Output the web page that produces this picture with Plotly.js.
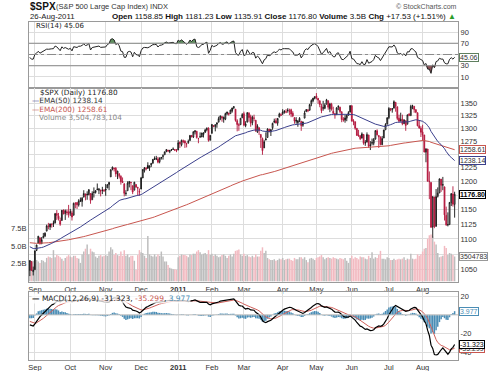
<!DOCTYPE html>
<html><head><meta charset="utf-8">
<script src="https://cdn.plot.ly/plotly-3.0.1.min.js"></script>
<style>html,body{margin:0;padding:0;background:#fff;}#chart{width:489px;height:371px;}</style>
</head><body><div id="chart"></div>
<script>
// ---------- DATA ----------
const dates = [
'2010-08-27','2010-08-30','2010-08-31',
'2010-09-01','2010-09-02','2010-09-03','2010-09-07','2010-09-08','2010-09-09','2010-09-10','2010-09-13','2010-09-14','2010-09-15','2010-09-16','2010-09-17','2010-09-20','2010-09-21','2010-09-22','2010-09-23','2010-09-24','2010-09-27','2010-09-28','2010-09-29','2010-09-30',
'2010-10-01','2010-10-04','2010-10-05','2010-10-06','2010-10-07','2010-10-08','2010-10-11','2010-10-12','2010-10-13','2010-10-14','2010-10-15','2010-10-18','2010-10-19','2010-10-20','2010-10-21','2010-10-22','2010-10-25','2010-10-26','2010-10-27','2010-10-28','2010-10-29',
'2010-11-01','2010-11-02','2010-11-03','2010-11-04','2010-11-05','2010-11-08','2010-11-09','2010-11-10','2010-11-11','2010-11-12','2010-11-15','2010-11-16','2010-11-17','2010-11-18','2010-11-19','2010-11-22','2010-11-23','2010-11-24','2010-11-26','2010-11-29','2010-11-30',
'2010-12-01','2010-12-02','2010-12-03','2010-12-06','2010-12-07','2010-12-08','2010-12-09','2010-12-10','2010-12-13','2010-12-14','2010-12-15','2010-12-16','2010-12-17','2010-12-20','2010-12-21','2010-12-22','2010-12-23','2010-12-27','2010-12-28','2010-12-29','2010-12-30','2010-12-31',
'2011-01-03','2011-01-04','2011-01-05','2011-01-06','2011-01-07','2011-01-10','2011-01-11','2011-01-12','2011-01-13','2011-01-14','2011-01-18','2011-01-19','2011-01-20','2011-01-21','2011-01-24','2011-01-25','2011-01-26','2011-01-27','2011-01-28','2011-01-31',
'2011-02-01','2011-02-02','2011-02-03','2011-02-04','2011-02-07','2011-02-08','2011-02-09','2011-02-10','2011-02-11','2011-02-14','2011-02-15','2011-02-16','2011-02-17','2011-02-18','2011-02-22','2011-02-23','2011-02-24','2011-02-25','2011-02-28',
'2011-03-01','2011-03-02','2011-03-03','2011-03-04','2011-03-07','2011-03-08','2011-03-09','2011-03-10','2011-03-11','2011-03-14','2011-03-15','2011-03-16','2011-03-17','2011-03-18','2011-03-21','2011-03-22','2011-03-23','2011-03-24','2011-03-25','2011-03-28','2011-03-29','2011-03-30','2011-03-31',
'2011-04-01','2011-04-04','2011-04-05','2011-04-06','2011-04-07','2011-04-08','2011-04-11','2011-04-12','2011-04-13','2011-04-14','2011-04-15','2011-04-18','2011-04-19','2011-04-20','2011-04-21','2011-04-25','2011-04-26','2011-04-27','2011-04-28','2011-04-29',
'2011-05-02','2011-05-03','2011-05-04','2011-05-05','2011-05-06','2011-05-09','2011-05-10','2011-05-11','2011-05-12','2011-05-13','2011-05-16','2011-05-17','2011-05-18','2011-05-19','2011-05-20','2011-05-23','2011-05-24','2011-05-25','2011-05-26','2011-05-27','2011-05-31',
'2011-06-01','2011-06-02','2011-06-03','2011-06-06','2011-06-07','2011-06-08','2011-06-09','2011-06-10','2011-06-13','2011-06-14','2011-06-15','2011-06-16','2011-06-17','2011-06-20','2011-06-21','2011-06-22','2011-06-23','2011-06-24','2011-06-27','2011-06-28','2011-06-29','2011-06-30',
'2011-07-01','2011-07-05','2011-07-06','2011-07-07','2011-07-08','2011-07-11','2011-07-12','2011-07-13','2011-07-14','2011-07-15','2011-07-18','2011-07-19','2011-07-20','2011-07-21','2011-07-22','2011-07-25','2011-07-26','2011-07-27','2011-07-28','2011-07-29',
'2011-08-01','2011-08-02','2011-08-03','2011-08-04','2011-08-05','2011-08-08','2011-08-09','2011-08-10','2011-08-11','2011-08-12','2011-08-15','2011-08-16','2011-08-17','2011-08-18','2011-08-19','2011-08-22','2011-08-23','2011-08-24','2011-08-25','2011-08-26'
];
const opens = [
1049,1063,1047,
1050,1081,1093,1102,1092,1102,1105,1113,1121,1120,1124,1127,1127,1143,1139,1131,1131,1149,1143,1146,1146,
1144,1144,1140,1160,1162,1158,1166,1164,1172,1177,1177,1176,1178,1167,1180,1180,1185,1184,1184,1184,1183,
1186,1188,1194,1208,1222,1224,1224,1214,1209,1209,1200,1195,1178,1183,1196,1198,1192,1184,1194,1189,1182,
1186,1206,1220,1224,1229,1225,1230,1233,1242,1241,1241,1236,1243,1246,1249,1255,1258,1255,1259,1259,1259,1257,
1258,1273,1268,1276,1275,1270,1272,1276,1286,1283,1293,1294,1280,1283,1283,1288,1292,1297,1300,1277,
1290,1305,1303,1308,1312,1319,1323,1318,1318,1329,1330,1329,1334,1341,1338,1315,1307,1307,1321,
1329,1305,1312,1330,1323,1311,1320,1316,1293,1301,1288,1280,1262,1277,1282,1298,1293,1301,1312,1315,1310,1322,1327,
1329,1334,1332,1336,1335,1337,1330,1321,1316,1311,1315,1314,1306,1320,1333,1337,1336,1349,1355,1360,
1365,1360,1355,1344,1341,1340,1348,1355,1339,1348,1334,1326,1328,1342,1342,1333,1318,1316,1320,1326,1332,
1345,1315,1313,1300,1287,1285,1281,1288,1272,1273,1287,1266,1272,1271,1279,1295,1286,1283,1268,1281,1297,1308,
1321,1339,1337,1340,1352,1343,1320,1314,1318,1309,1315,1308,1328,1325,1344,1344,1337,1331,1305,1300,
1293,1287,1254,1260,1200,1198,1120,1172,1121,1173,1179,1204,1193,1190,1140,1124,1124,1162,1177,1158.85
];
const highs = [
1065,1064,1055,
1081,1090,1105,1102,1103,1110,1111,1124,1127,1126,1126,1131,1144,1149,1144,1136,1149,1150,1150,1150,1158,
1151,1148,1162,1163,1163,1168,1171,1172,1184,1178,1182,1186,1178,1182,1189,1184,1196,1188,1185,1190,1186,
1195,1195,1199,1222,1227,1225,1226,1219,1215,1211,1207,1197,1184,1200,1200,1199,1192,1199,1195,1190,1187,
1208,1222,1226,1226,1235,1229,1233,1241,1246,1247,1245,1244,1245,1250,1255,1260,1258,1258,1260,1263,1260,1260,
1277,1274,1278,1278,1277,1272,1278,1287,1287,1294,1296,1295,1281,1292,1291,1292,1299,1302,1302,1287,
1308,1306,1308,1311,1323,1325,1324,1323,1331,1333,1331,1337,1341,1344,1338,1318,1310,1320,1330,
1333,1314,1332,1332,1327,1325,1327,1316,1308,1302,1288,1282,1277,1292,1300,1299,1298,1311,1319,1320,1320,1331,1330,
1338,1336,1338,1340,1339,1339,1334,1322,1322,1316,1322,1314,1313,1335,1338,1337,1349,1358,1361,1364,
1371,1361,1356,1349,1355,1350,1359,1356,1351,1351,1343,1330,1342,1346,1343,1333,1322,1326,1328,1334,1346,
1346,1318,1313,1300,1297,1287,1292,1288,1277,1292,1287,1275,1280,1281,1296,1298,1286,1284,1285,1297,1310,1322,
1342,1340,1340,1356,1352,1343,1327,1331,1327,1318,1315,1327,1330,1347,1347,1344,1338,1331,1316,1304,
1307,1287,1261,1260,1218,1198,1173,1172,1186,1189,1205,1204,1208,1190,1155,1145,1163,1179,1191,1181.23
];
const lows = [
1040,1049,1041,
1050,1080,1093,1091,1092,1101,1103,1113,1116,1115,1119,1120,1126,1132,1131,1122,1131,1142,1132,1140,1136,
1139,1131,1140,1152,1151,1155,1163,1155,1171,1166,1167,1175,1160,1167,1171,1178,1184,1177,1173,1177,1181,
1174,1188,1184,1208,1220,1218,1208,1204,1205,1194,1197,1173,1174,1183,1189,1184,1177,1184,1189,1174,1174,
1186,1206,1216,1220,1223,1219,1226,1233,1240,1239,1233,1233,1240,1240,1249,1254,1254,1252,1256,1259,1256,1254,
1258,1262,1265,1271,1262,1263,1270,1276,1282,1281,1288,1280,1271,1282,1283,1282,1291,1294,1274,1276,
1290,1302,1294,1301,1312,1316,1313,1311,1316,1326,1325,1329,1331,1338,1313,1294,1295,1307,1320,
1304,1302,1312,1313,1303,1306,1314,1293,1291,1287,1262,1249,1262,1277,1282,1292,1285,1297,1310,1310,1305,1322,1325,
1326,1329,1330,1331,1326,1322,1322,1309,1309,1303,1312,1295,1303,1320,1333,1332,1335,1344,1352,1358,
1358,1349,1342,1330,1335,1338,1348,1337,1332,1335,1329,1319,1326,1336,1330,1312,1313,1311,1314,1325,1332,
1313,1306,1297,1285,1284,1277,1280,1268,1266,1273,1262,1258,1267,1267,1278,1286,1262,1267,1268,1281,1297,1308,
1318,1334,1331,1340,1333,1316,1313,1314,1306,1309,1295,1308,1324,1325,1338,1331,1330,1304,1299,1283,
1275,1254,1235,1200,1168,1119,1102,1118,1121,1171,1179,1181,1184,1131,1122,1121,1124,1156,1155,1135.91
];
const closes = [
1064.59,1048.92,1049.33,
1080.29,1090.10,1104.51,1091.84,1098.87,1104.18,1109.55,1121.90,1121.10,1125.07,1124.66,1125.59,1142.71,1139.78,1134.28,1124.83,1148.67,1142.16,1147.70,1144.73,1141.20,
1146.24,1137.03,1160.75,1159.97,1158.06,1165.15,1165.32,1169.77,1178.10,1173.81,1176.19,1184.71,1165.90,1178.17,1180.26,1183.08,1185.62,1185.64,1182.45,1183.78,1183.26,
1184.38,1193.57,1197.96,1221.06,1225.85,1223.25,1213.40,1218.71,1213.54,1199.21,1197.75,1178.34,1178.59,1196.69,1199.73,1197.84,1180.73,1198.35,1189.40,1187.76,1180.55,
1206.07,1221.53,1224.71,1223.12,1223.75,1228.28,1233.00,1240.40,1240.46,1241.59,1235.23,1242.87,1243.91,1247.08,1254.60,1258.84,1256.77,1257.54,1258.51,1259.78,1257.88,1257.64,
1271.87,1270.20,1276.56,1273.85,1271.50,1269.75,1274.48,1285.96,1283.76,1293.24,1295.02,1281.92,1280.26,1283.35,1290.84,1291.18,1296.63,1299.54,1276.34,1286.12,
1307.59,1304.03,1307.10,1310.87,1319.05,1324.57,1320.88,1321.87,1329.15,1332.32,1328.01,1336.32,1340.43,1343.01,1315.44,1307.40,1306.10,1319.88,1327.22,
1306.33,1308.44,1330.97,1321.15,1310.13,1321.82,1320.02,1295.11,1304.28,1296.39,1281.87,1256.88,1273.72,1279.21,1298.38,1293.77,1297.54,1309.66,1313.80,1310.19,1319.44,1328.26,1325.83,
1332.41,1332.87,1332.63,1335.54,1333.51,1328.17,1324.46,1314.16,1314.41,1314.52,1319.68,1305.14,1312.62,1330.36,1337.38,1335.25,1347.24,1355.66,1360.48,1363.61,
1361.22,1356.62,1347.32,1335.10,1340.20,1346.29,1357.16,1342.08,1348.65,1337.77,1329.47,1328.98,1340.68,1343.60,1333.27,1317.37,1316.28,1320.47,1325.69,1331.10,1345.20,
1314.55,1312.94,1300.16,1286.17,1284.94,1279.56,1289.00,1270.98,1271.83,1287.87,1265.42,1267.64,1271.50,1278.36,1295.52,1287.14,1283.50,1268.45,1280.10,1296.67,1307.41,1320.64,
1339.67,1337.88,1339.22,1353.22,1343.80,1319.49,1313.64,1317.72,1308.87,1316.14,1305.44,1326.73,1325.84,1343.80,1345.02,1337.43,1331.94,1304.89,1300.67,1292.28,
1286.94,1254.05,1260.34,1200.07,1199.38,1119.46,1172.53,1120.76,1172.64,1178.81,1204.49,1192.76,1193.89,1140.65,1123.53,1123.82,1162.35,1177.60,1159.27,1176.80
];
// volume in billions of shares
const volumesB = [
3.0,2.6,2.9,
3.4,3.0,2.8,2.6,3.0,2.9,2.7,3.3,3.5,3.4,3.3,4.4,3.4,3.7,3.6,3.4,3.2,2.9,3.3,3.5,3.7,
3.5,3.4,3.6,3.6,3.3,3.2,2.6,3.8,4.2,4.6,5.2,3.8,4.6,4.2,4.1,3.5,3.3,3.6,3.7,3.5,3.6,
3.7,3.6,4.2,4.8,4.5,3.7,4.0,3.7,3.6,4.2,3.6,4.4,3.6,3.8,3.4,3.6,3.6,2.9,1.6,3.7,4.4,
4.1,4.0,3.6,3.3,6.4,3.8,3.6,3.5,3.8,3.5,3.8,3.6,4.2,3.5,2.8,2.8,2.3,1.9,1.8,1.7,1.7,1.6,
3.4,3.6,3.8,3.7,3.7,3.6,3.4,3.8,3.7,3.9,3.9,4.2,4.4,4.1,3.8,3.9,4.0,3.8,4.4,3.7,
3.9,3.6,3.8,3.6,3.4,3.5,3.7,3.8,3.6,3.3,3.6,3.8,3.5,3.9,4.3,4.4,4.5,3.8,3.6,
3.9,3.6,3.7,3.5,3.4,3.6,3.4,3.8,3.5,3.5,4.3,4.8,4.0,4.3,3.3,3.1,3.0,3.0,3.1,2.9,3.0,3.2,3.1,
3.3,3.0,3.1,3.2,3.2,3.0,2.9,3.3,3.1,3.1,3.4,3.4,3.2,3.4,3.0,2.7,3.2,3.3,3.2,3.0,
3.3,3.4,3.5,3.7,3.4,3.1,3.3,3.4,3.3,3.2,3.4,3.3,3.2,3.1,3.3,3.2,3.1,3.3,2.9,2.6,3.3,
3.6,3.2,3.4,3.3,3.1,3.5,3.4,3.4,3.2,3.1,3.6,3.3,4.1,3.2,3.4,3.3,3.7,4.3,3.2,3.2,3.1,3.4,
3.3,3.0,3.0,3.2,3.0,3.1,3.2,3.1,3.2,3.4,3.0,3.2,3.1,3.9,3.2,3.1,3.2,3.8,3.6,3.8,
4.2,4.6,4.7,6.0,6.5,6.6,6.3,5.6,5.2,4.0,3.4,3.5,3.6,5.0,4.7,3.7,4.0,3.9,3.7,3.504783104
];
const prevClose0 = 1047.22;          // close of 26-Aug-2010
// indicator starting states read from the left edge of the panels
const ema50Seed = 1088, ema200Seed = 1094;
const ema12Seed = 1069, ema26Seed = 1080, signalSeed = -6;
const rsiGainSeed = 6, rsiLossSeed = 9;

const monthTickDates = ['2010-09-01','2010-10-01','2010-11-01','2010-12-01','2011-01-03','2011-02-01','2011-03-01','2011-04-01','2011-05-02','2011-06-01','2011-07-01','2011-08-01'];
const monthTickText = ['Sep','Oct','Nov','Dec','<b>2011</b>','Feb','Mar','Apr','May','Jun','Jul','Aug'];
const priceTicks = [1050,1075,1100,1125,1150,1175,1200,1225,1250,1275,1300,1325,1350];
// labels hidden behind the value tags in the reference are left blank
const priceTickText = ['1050','','1100','1125','1150','','1200','1225','','1275','1300','1325','1350'];
const rsiTicks = [10,30,50,70,90];
const rsiTickText = ['10','30','','70','90'];
const macdTicks = [-40,-20,0,20];
const macdTickText = ['-40','-20','','20'];
const volTicks = [2.5,5,7.5];
const volTickText = ['2.5B','5.0B','7.5B'];

// ---------- indicators ----------
function ema(arr, n, seed){ const k = 2/(n+1); let e = seed; return arr.map(v => (e = v*k + e*(1-k))); }
const ema50 = ema(closes, 50, ema50Seed);
const ema200 = ema(closes, 200, ema200Seed);
const ema12 = ema(closes, 12, ema12Seed);
const ema26 = ema(closes, 26, ema26Seed);
const macd = ema12.map((v,i) => v - ema26[i]);
const signal = ema(macd, 9, signalSeed);
const hist = macd.map((v,i) => v - signal[i]);
let ag = rsiGainSeed, al = rsiLossSeed;
const prevCloses = closes.map((c,i) => i === 0 ? prevClose0 : closes[i-1]);
const rsi = closes.map((c,i) => { const d = c - prevCloses[i]; ag = (ag*13 + Math.max(d,0))/14; al = (al*13 + Math.max(-d,0))/14; return 100 - 100/(1 + ag/al); });

// ---------- colours ----------
const RED = '#b3173d', BLACK = '#111111', NAVY = '#3b3f8c', SALMON = '#c8564f', TEAL = '#4a8db5';
const F = 'Liberation Sans, Arial, sans-serif';
const FL = 'DejaVu Sans, Verdana, sans-serif';

const upIdx = [], dnIdx = [];
closes.forEach((c,i) => (c >= prevCloses[i] ? upIdx : dnIdx).push(i));
const pick = (arr, idx) => idx.map(i => arr[i]);

function candle(idx, col){
  return {type:'candlestick', xaxis:'x2', yaxis:'y3',
    x: pick(dates, idx), open: pick(opens, idx), high: pick(highs, idx), low: pick(lows, idx), close: pick(closes, idx),
    whiskerwidth: 0,
    increasing: {line:{color:col, width:0.9}, fillcolor:'#ffffff'},
    decreasing: {line:{color:col, width:0.9}, fillcolor:col},
    hoverinfo:'skip'};
}

const traces = [
  // RSI panel
  {type:'scatter', mode:'lines', x:dates, y:dates.map(() => 70), line:{width:0, color:'rgba(0,0,0,0)'}, xaxis:'x', yaxis:'y', hoverinfo:'skip'},
  {type:'scatter', mode:'lines', x:dates, y:rsi.map(v => Math.max(v,70)), fill:'tonexty', fillcolor:'#5f8f5f', line:{width:0, color:'rgba(0,0,0,0)'}, xaxis:'x', yaxis:'y', hoverinfo:'skip'},
  {type:'scatter', mode:'lines', x:dates, y:dates.map(() => 30), line:{width:0, color:'rgba(0,0,0,0)'}, xaxis:'x', yaxis:'y', hoverinfo:'skip'},
  {type:'scatter', mode:'lines', x:dates, y:rsi.map(v => Math.min(v,30)), fill:'tonexty', fillcolor:'#8a4f55', line:{width:0, color:'rgba(0,0,0,0)'}, xaxis:'x', yaxis:'y', hoverinfo:'skip'},
  {type:'scatter', mode:'lines', x:dates, y:rsi, line:{width:1, color:'#222'}, xaxis:'x', yaxis:'y', hoverinfo:'skip'},
  // volume (base axis of main panel)
  {type:'bar', x:dates, y:volumesB, xaxis:'x2', yaxis:'y2', hoverinfo:'skip',
   marker:{color: closes.map((c,i) => c >= prevCloses[i] ? '#bdbdbd' : '#f2bac1'), line:{width:0}}},
  // moving averages + candles (overlay axis)
  {type:'scatter', mode:'lines', x:dates, y:ema200, line:{width:1, color:SALMON}, xaxis:'x2', yaxis:'y3', hoverinfo:'skip'},
  {type:'scatter', mode:'lines', x:dates, y:ema50, line:{width:1, color:NAVY}, xaxis:'x2', yaxis:'y3', hoverinfo:'skip'},
  candle(upIdx, BLACK),
  candle(dnIdx, RED),
  // MACD panel
  {type:'bar', x:dates, y:hist, xaxis:'x3', yaxis:'y4', marker:{color:TEAL, line:{width:0}}, hoverinfo:'skip'},
  {type:'scatter', mode:'lines', x:dates, y:signal, line:{width:1, color:'#d0605a'}, xaxis:'x3', yaxis:'y4', hoverinfo:'skip'},
  {type:'scatter', mode:'lines', x:dates, y:macd, line:{width:1.2, color:'#000'}, xaxis:'x3', yaxis:'y4', hoverinfo:'skip'}
];

const GRID = '#dddddd', AXL = '#9a9a9a';
const xcommon = {type:'category', categoryorder:'array', categoryarray:dates, range:[-0.5, 254],
  tickmode:'array', tickvals:monthTickDates, ticktext:monthTickText, showgrid:true, gridcolor:GRID, gridwidth:1,
  showline:true, mirror:true, linecolor:AXL, linewidth:1, ticks:'', tickfont:{family:F, size:7.5, color:'#333'}, fixedrange:true};
const ycommon = {showline:true, mirror:true, linecolor:AXL, linewidth:1, ticks:'', zeroline:false, gridcolor:GRID,
  tickfont:{family:F, size:7.5, color:'#333'}, fixedrange:true, tickmode:'array'};

const px = v => (v - 29)/429;
const py = v => 1 - v/371;

function tag(text, yref, y, border, color, bold){
  return {xref:'paper', yref:yref, x:1, y:y, xanchor:'left', yanchor:'middle', xshift:1, showarrow:false,
    text: bold ? '<b>'+text+'</b>' : text, font:{family:F, size:7, color:color},
    bgcolor:'#ffffff', bordercolor:border, borderwidth:1, borderpad:0};
}
function label(text, x, y, size, color, family, anchor, bg){
  return {xref:'paper', yref:'paper', x:px(x), y:py(y), xanchor:anchor || 'left', yanchor:'middle', showarrow:false,
    text:text, font:{family:family || F, size:size, color:color || '#222'}, bgcolor: bg || 'rgba(0,0,0,0)', borderpad:0};
}

const annotations = [
  label('<b>$SPX</b>', 28.5, 6.2, 10, '#111'),
  label('(S&P 500 Large Cap Index) INDX', 55, 7, 7.5, '#333'),
  label('© StockCharts.com', 458, 7, 7, '#555', F, 'right'),
  label('26-Aug-2011', 28.5, 16.6, 7.8, '#222'),
  label('<b>Open</b> 1158.85 <b>High</b> 1181.23 <b>Low</b> 1135.91 <b>Close</b> 1176.80 <b>Volume</b> 3.5B <b>Chg</b> +17.53 (+1.51%) <span style="color:#2a9d2a">▲</span>', 457, 16.3, 8, '#111', F, 'right'),
  label('RSI(14) 45.06', 35, 26, 7, '#222', FL),
  label('$SPX (Daily) 1176.80', 39, 92.3, 7.3, '#222', FL),
  label('<span style="color:'+NAVY+'">—</span>EMA(50) 1238.14', 30.5, 100.7, 7.3, '#333', FL),
  label('<span style="color:'+SALMON+'">—EMA(200) 1258.61</span>', 30.5, 109.1, 7.3, SALMON, FL),
  label('Volume 3,504,783,104', 37.5, 117.5, 7.3, '#888', FL),
  label('<b>—</b> MACD(12,26,9) -31.323, <span style="color:'+SALMON+'">-35.299</span>, <span style="color:'+TEAL+'">3.977</span>', 30.5, 298, 7.5, '#222', FL, 'left', 'rgba(255,255,255,0.75)'),
  tag('45.06', 'y', 45.06, '#5f7f5f', '#333'),
  tag('1258.61', 'y3', Math.log10(1258.61), SALMON, '#333'),
  tag('1238.14', 'y3', Math.log10(1238.14), NAVY, '#333'),
  tag('1176.80', 'y3', Math.log10(1176.80), '#000', '#000', true),
  tag('3504783', 'y2', 3.504783, '#999', '#333'),
  tag('3.977', 'y4', 3.977, TEAL, TEAL),
  tag('-35.299', 'y4', -35.299, SALMON, '#333'),
  tag('-31.323', 'y4', -31.323, '#000', '#000')
];

const shapes = [
  {type:'line', xref:'x', yref:'y', x0:-0.5, x1:254, y0:70, y1:70, line:{color:'#8a8a8a', width:1}},
  {type:'line', xref:'x', yref:'y', x0:-0.5, x1:254, y0:30, y1:30, line:{color:'#8a8a8a', width:1}},
  {type:'line', xref:'x', yref:'y', x0:-0.5, x1:254, y0:50, y1:50, line:{color:'#8a8a8a', width:1, dash:'dashdot'}},
  {type:'line', xref:'x3', yref:'y4', x0:-0.5, x1:254, y0:0, y1:0, line:{color:'#c8c8c8', width:1}}
];

const layout = {
  width:489, height:371, margin:{l:29, r:31, t:0, b:0}, paper_bgcolor:'#fff', plot_bgcolor:'#fff',
  showlegend:false, bargap:0.12, hovermode:false, font:{family:F, size:7.5, color:'#333'},
  xaxis: Object.assign({}, xcommon, {anchor:'y', showticklabels:false}),
  xaxis2: Object.assign({}, xcommon, {anchor:'y2', rangeslider:{visible:false}}),
  xaxis3: Object.assign({}, xcommon, {anchor:'y4'}),
  yaxis: Object.assign({}, ycommon, {domain:[py(88), py(22)], range:[-9.6, 107.8], side:'right', tickvals:rsiTicks, ticktext:rsiTickText, showgrid:true}),
  yaxis2: Object.assign({}, ycommon, {domain:[py(282), py(88)], range:[-0.1, 27.3], side:'left', tickvals:volTicks, ticktext:volTickText, showgrid:false}),
  yaxis3: Object.assign({}, ycommon, {overlaying:'y2', side:'right', type:'log', range:[3.01315, 3.14036], tickvals:priceTicks, ticktext:priceTickText, showgrid:true}),
  yaxis4: Object.assign({}, ycommon, {domain:[py(360), py(292)], range:[-47.8, 24.3], side:'right', tickvals:macdTicks, ticktext:macdTickText, showgrid:true}),
  annotations: annotations, shapes: shapes
};

Plotly.newPlot('chart', traces, layout, {staticPlot:true, displayModeBar:false});
</script>
</body></html>
